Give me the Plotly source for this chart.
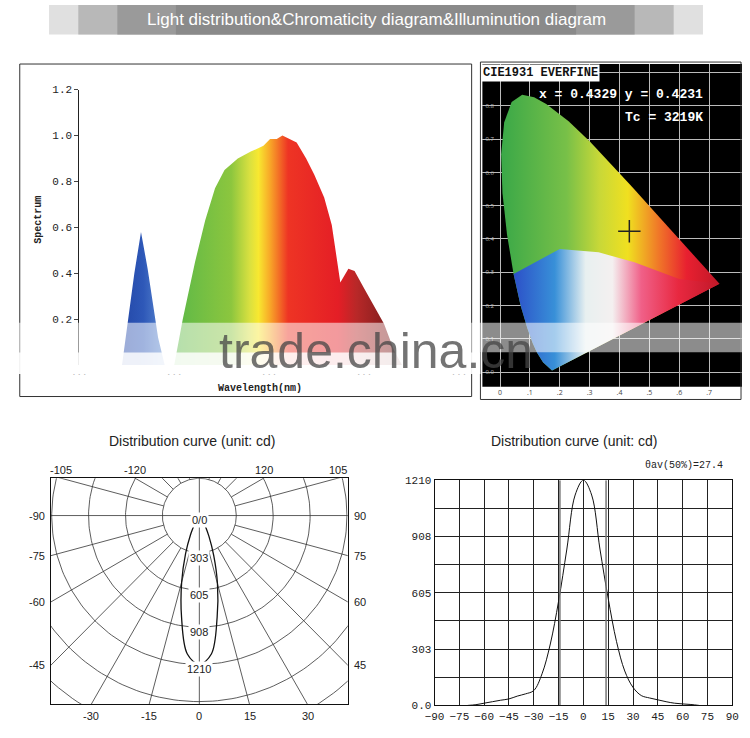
import numpy as np
import plotly.graph_objects as go

# ---------------- data ----------------
blue_wl = [425, 438, 445, 452, 463, 470]
blue_val = [0.0, 0.40, 0.58, 0.42, 0.12, 0.0]
main_wl = [480, 489, 502, 512.6, 523, 533, 547, 560.7, 574, 581, 588, 594, 609, 619, 627.5, 638, 646, 655, 663.5, 670, 680.6, 701, 712, 720]
main_val = [0.0, 0.2, 0.45, 0.63, 0.77, 0.85, 0.90, 0.93, 0.955, 0.985, 0.985, 1.0, 0.97, 0.90, 0.83, 0.73, 0.61, 0.36, 0.42, 0.41, 0.33, 0.18, 0.06, 0.0]
spec_yticks = [0.2, 0.4, 0.6, 0.8, 1.0, 1.2]
wl_ticks = [380, 480, 580, 680, 780]

locus_x = [0.1741, 0.1440, 0.1241, 0.1096, 0.0913, 0.0687, 0.0454, 0.0235, 0.0082, 0.0039, 0.0139, 0.0389, 0.0743, 0.1142, 0.1547, 0.2296, 0.3016, 0.3731, 0.4441, 0.5125, 0.5752, 0.6270, 0.6915, 0.7190, 0.7347]
locus_y = [0.0050, 0.0297, 0.0578, 0.0868, 0.1327, 0.2007, 0.2950, 0.4127, 0.5384, 0.6548, 0.7502, 0.8120, 0.8338, 0.8262, 0.8059, 0.7543, 0.6923, 0.6245, 0.5547, 0.4866, 0.4242, 0.3725, 0.3083, 0.2809, 0.2653]
cie_x, cie_y, cie_tc = 0.4329, 0.4231, 3219

angles = [-70, -65, -60, -55, -50, -45, -40, -35, -30, -25, -20, -15, -10, -5, 0, 5, 10, 15, 20, 25, 30, 35, 40, 45, 50, 55, 60, 65, 70]
intensity = [0, 4, 12, 20, 28, 35, 50, 62, 80, 170, 330, 560, 840, 1130, 1210, 1130, 840, 574, 344, 185, 97, 53, 40, 30, 20, 12, 8, 5, 0]
ring_vals = [303, 605, 908, 1210]
cart_yticks = [0, 303, 605, 908, 1210]
cart_ytext = ["0.0", "303", "605", "908", "1210"]
theta_half = 27.4

W, H = 750, 738
def px(x): return x / W
def py(y): return 1 - y / H

fig = go.Figure()

fig.add_trace(go.Scatter(x=blue_wl, y=blue_val, mode="lines", line=dict(width=0), fill="toself",
                         fillgradient=dict(type="horizontal", colorscale=[[0, "#2448a8"], [0.5, "#2e58b8"], [1, "#5a88d0"]]),
                         xaxis="x", yaxis="y", hoverinfo="skip"))
fig.add_trace(go.Scatter(x=main_wl, y=main_val, mode="lines", line=dict(width=0), fill="toself",
                         fillgradient=dict(type="horizontal", colorscale=[
                             [0, "#5cb848"], [0.25, "#8cc63e"], [0.33, "#d8e040"], [0.37, "#f8e830"],
                             [0.42, "#f8a828"], [0.5, "#ee3424"], [0.72, "#e41e26"], [0.8, "#b82828"], [1, "#6a1a1a"]]),
                         xaxis="x", yaxis="y", hoverinfo="skip"))

lx = locus_x + [locus_x[0]]
ly = locus_y + [locus_y[0]]
fig.add_trace(go.Scatter(x=lx, y=ly, mode="lines", line=dict(width=0), fill="toself",
                         fillgradient=dict(type="horizontal", colorscale=[
                             [0, "#3aa848"], [0.3, "#78c048"], [0.45, "#c8d838"], [0.58, "#f0e020"],
                             [0.72, "#f07828"], [0.85, "#e82030"], [1, "#c01828"]]),
                         xaxis="x2", yaxis="y2", hoverinfo="skip"))
low_x = [0.1741, 0.1440, 0.1241, 0.1096, 0.0913, 0.0687, 0.0454, 0.20, 0.33, 0.45, 0.60, 0.7347]
low_y = [0.0050, 0.0297, 0.0578, 0.0868, 0.1327, 0.2007, 0.2950, 0.37, 0.36, 0.33, 0.28, 0.2653]
fig.add_trace(go.Scatter(x=low_x + [low_x[0]], y=low_y + [low_y[0]], mode="lines", line=dict(width=0), fill="toself",
                         fillgradient=dict(type="horizontal", colorscale=[
                             [0, "#2c50c8"], [0.2, "#3890d8"], [0.35, "#e8f0f0"], [0.48, "#f4f0f0"],
                             [0.62, "#f06088"], [0.8, "#e82840"], [1, "#c01828"]]),
                         xaxis="x2", yaxis="y2", hoverinfo="skip"))
fig.add_trace(go.Scatter(x=[cie_x], y=[cie_y], mode="markers", marker=dict(symbol="cross-thin", size=16, line=dict(width=1.5, color="#222")),
                         xaxis="x2", yaxis="y2", hoverinfo="skip"))

th = np.radians(angles)
I = np.array(intensity, float)
pxs = I * np.sin(th)
pys = -I * np.cos(th)
grid_color = "#333"
t = np.linspace(0, 2 * np.pi, 240)
for r in ring_vals + [1513, 1815, 2118]:
    fig.add_trace(go.Scatter(x=r * np.cos(t), y=r * np.sin(t), mode="lines", line=dict(color=grid_color, width=0.8),
                             xaxis="x3", yaxis="y3", hoverinfo="skip"))
for a in range(0, 360, 15):
    ar = np.radians(a)
    r0 = 0 if a % 90 == 0 else ring_vals[0]
    fig.add_trace(go.Scatter(x=[r0 * np.sin(ar), 3000 * np.sin(ar)], y=[-r0 * np.cos(ar), -3000 * np.cos(ar)], mode="lines",
                             line=dict(color=grid_color, width=0.8), xaxis="x3", yaxis="y3", hoverinfo="skip"))
fig.add_trace(go.Scatter(x=pxs, y=pys, mode="lines", line=dict(color="#111", width=1.3, shape="spline"), xaxis="x3", yaxis="y3", hoverinfo="skip"))

fig.add_trace(go.Scatter(x=angles, y=intensity, mode="lines", line=dict(color="#111", width=1, shape="spline"),
                         xaxis="x4", yaxis="y4", hoverinfo="skip"))
for xv in [-theta_half / 2 - 0.5, theta_half / 2]:
    fig.add_trace(go.Scatter(x=[xv, xv], y=[0, 1210], mode="lines", line=dict(color="#777", width=1.5),
                             xaxis="x4", yaxis="y4", hoverinfo="skip"))

mono = "Liberation Mono, Courier New, monospace"
sans = "Liberation Sans, Arial"
fig.update_layout(
    width=W, height=H, margin=dict(l=0, r=0, t=0, b=0), showlegend=False,
    paper_bgcolor="white", plot_bgcolor="rgba(0,0,0,0)",
    xaxis=dict(anchor="y", domain=[px(71), px(460)], range=[380, 780], tickvals=wl_ticks, ticktext=["..."] * 5,
               showgrid=False, zeroline=False, showline=False, tickfont=dict(size=9, color="#bbb", family=mono)),
    yaxis=dict(anchor="x", domain=[py(366), py(86)], range=[0, 1.2], tickvals=spec_yticks, ticktext=["%.1f" % v for v in spec_yticks],
               showgrid=False, zeroline=False, showline=True, linecolor="#222", ticks="outside", ticklen=4,
               tickfont=dict(size=11, color="#222", family=mono)),
    xaxis2=dict(anchor="y2", domain=[px(484), px(750)], range=[-0.059, 0.81], tickvals=[0, .1, .2, .3, .4, .5, .6, .7],
                ticktext=["0", ".1", ".2", ".3", ".4", ".5", ".6", ".7"], tickfont=dict(size=7, color="#444"),
                showgrid=True, gridcolor="#bbb", gridwidth=0.8, zeroline=False, showline=False),
    yaxis2=dict(anchor="x2", domain=[py(388), py(60)], range=[-0.044, 0.926], dtick=0.1, tickformat=".1f",
                ticklabelposition="inside", tickfont=dict(size=6, color="#bbb"),
                showgrid=True, gridcolor="#bbb", gridwidth=0.8, zeroline=False, showline=False),
    xaxis3=dict(anchor="y3", domain=[px(42), px(346)], range=[-1216, 1216], showticklabels=False, showgrid=False, zeroline=False,
                showline=True, mirror=True, linecolor="#111"),
    yaxis3=dict(anchor="x3", domain=[py(711), py(481)], range=[-1536, 304], showticklabels=False, showgrid=False, zeroline=False,
                showline=True, mirror=True, linecolor="#111"),
    xaxis4=dict(anchor="y4", domain=[px(435), px(740)], range=[-90, 90], dtick=15, showgrid=True, gridcolor="#222", gridwidth=0.8,
                zeroline=False, showline=True, mirror=True, linecolor="#111", tickfont=dict(size=11, color="#222", family=mono)),
    yaxis4=dict(anchor="x4", domain=[py(712), py(483)], range=[0, 1210], tickvals=cart_yticks, ticktext=cart_ytext,
                showgrid=True, gridcolor="#222", gridwidth=0.8, zeroline=False, showline=True, mirror=True, linecolor="#111",
                minor=dict(dtick=151.25, tick0=0, showgrid=True, gridcolor="#222", gridwidth=0.8),
                tickfont=dict(size=11, color="#222", family=mono)),
)

shapes = [
    dict(type="rect", xref="paper", yref="paper", x0=px(40), x1=px(710), y0=py(30), y1=py(0), fillcolor="#e0e0e0", line_width=0, layer="below"),
    dict(type="rect", xref="paper", yref="paper", x0=px(70), x1=px(680), y0=py(30), y1=py(0), fillcolor="#b8b8b8", line_width=0, layer="below"),
    dict(type="rect", xref="paper", yref="paper", x0=px(110), x1=px(640), y0=py(30), y1=py(0), fillcolor="#9a9a9a", line_width=0, layer="below"),
    dict(type="rect", xref="paper", yref="paper", x0=px(170), x1=px(580), y0=py(30), y1=py(0), fillcolor="#8a8a8a", line_width=0, layer="below"),
    dict(type="rect", xref="paper", yref="paper", x0=px(10), x1=px(473), y0=py(398), y1=py(60), line=dict(color="#333", width=1)),
    dict(type="rect", xref="paper", yref="paper", x0=px(484), x1=px(750), y0=py(388), y1=py(60), fillcolor="black", line_width=0, layer="below"),
    dict(type="rect", xref="paper", yref="paper", x0=px(482), x1=px(749), y0=py(401), y1=py(58), line=dict(color="#333", width=1)),
    dict(type="rect", xref="paper", yref="paper", x0=0, x1=1, y0=py(353), y1=py(323), fillcolor="rgba(255,255,255,0.55)", line_width=0, layer="above"),
    dict(type="rect", xref="paper", yref="paper", x0=0, x1=px(482), y0=py(375), y1=py(353), fillcolor="rgba(255,255,255,0.92)", line_width=0, layer="above"),
]

ann = [
    dict(text="Light distribution&Chromaticity diagram&Illuminution diagram", x=0.5, y=py(15), font=dict(size=17, color="white", family=sans)),
    dict(text="<b>Wavelength(nm)</b>", x=px(256), y=py(390), font=dict(size=10, color="#222", family=mono)),
    dict(text="<b>Spectrum</b>", x=px(29), y=py(218), textangle=-90, font=dict(size=10, color="#222", family=mono)),
    dict(text="<b>CIE1931 EVERFINE</b>", x=px(483), y=py(69), xanchor="left", bgcolor="white", font=dict(size=12, color="#111", family=mono)),
    dict(text="<b>x = %.4f y = %.4f</b>" % (cie_x, cie_y), x=px(540), y=py(91), xanchor="left", font=dict(size=13, color="white", family=mono)),
    dict(text="<b>Tc = %dK</b>" % cie_tc, x=px(628), y=py(114), xanchor="left", font=dict(size=13, color="white", family=mono)),
    dict(text="Distribution curve (unit: cd)", x=px(187), y=py(443), font=dict(size=14, color="#222", family=sans)),
    dict(text="Distribution curve (unit: cd)", x=px(578), y=py(443), font=dict(size=14, color="#222", family=sans)),
    dict(text="θav(50%%)=%.1f" % theta_half, x=px(733), y=py(468), xanchor="right", font=dict(size=10, color="#222", family=mono)),
    dict(text="trade.china.cn", x=px(375), y=py(352), font=dict(size=50, color="rgba(70,70,70,0.75)", family=sans)),
]
for a in ann:
    a.setdefault("xref", "paper"); a.setdefault("yref", "paper"); a["showarrow"] = False
    a.setdefault("xanchor", "center"); a.setdefault("yanchor", "middle")

for r, lab in zip([0] + ring_vals, ["0/0"] + [str(v) for v in ring_vals]):
    ann.append(dict(text=lab, x=0, y=-r - 40, xref="x3", yref="y3", showarrow=False, bgcolor="white",
                    font=dict(size=11, color="#222", family=sans)))
for deg in [-90, -75, -60, -45, 90, 75, 60, 45]:
    ar = np.radians(abs(deg))
    yv = -1216 / np.tan(ar) if deg % 90 else 0
    side = -1 if deg < 0 else 1
    ann.append(dict(text=str(deg), x=side * 1216, y=yv, xref="x3", yref="y3", showarrow=False,
                    xanchor="right" if side < 0 else "left", xshift=4 * side,
                    font=dict(size=11, color="#222", family=sans)))
for deg in [-30, -15, 0, 15, 30]:
    xv = 1536 * np.tan(np.radians(deg))
    ann.append(dict(text=str(deg), x=xv, y=-1536, xref="x3", yref="y3", showarrow=False, yanchor="top", yshift=-4,
                    font=dict(size=11, color="#222", family=sans)))
for deg in [-105, -120, 120, 105]:
    ar = np.radians(abs(deg))
    xv = np.sign(deg) * min(1216, 304 * abs(np.tan(ar)))
    ann.append(dict(text=str(deg), x=xv, y=304, xref="x3", yref="y3", showarrow=False, yanchor="bottom",
                    font=dict(size=11, color="#222", family=sans)))

fig.update_layout(shapes=shapes, annotations=ann)
fig.write_html("out.html", config={"displayModeBar": False},
               post_script="document.body.style.margin='0';document.body.style.overflow='hidden';")
